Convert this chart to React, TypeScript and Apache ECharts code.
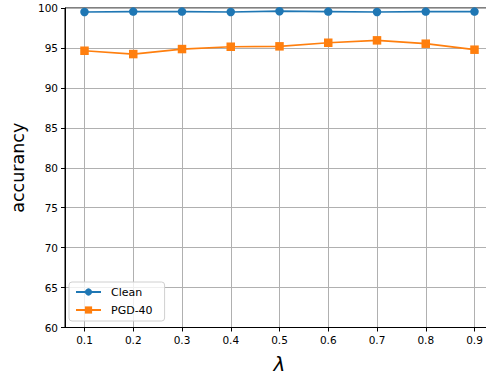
import React, { useEffect, useRef } from "react";
import * as echarts from "echarts";

const lambdas = [0.1, 0.2, 0.3, 0.4, 0.5, 0.6, 0.7, 0.8, 0.9];
const cleanAcc = [99.5, 99.55, 99.55, 99.5, 99.6, 99.55, 99.5, 99.55, 99.55];
const pgdAcc = [94.65, 94.23, 94.86, 95.15, 95.2, 95.65, 95.95, 95.53, 94.78];
const yTicks = [60, 65, 70, 75, 80, 85, 90, 95, 100];

export default function App() {
  const ref = useRef<HTMLDivElement>(null);
  useEffect(() => {
    if (!ref.current) return;
    const chart = echarts.init(ref.current, null, { renderer: "svg" });
    const font = "DejaVu Sans";
    chart.setOption({
      animation: false,
      textStyle: { fontFamily: font },
      grid: {
        left: 65,
        right: -8,
        top: 8,
        bottom: 47.5,
        containLabel: false,
        outerBoundsMode: "none",
        show: true,
        borderColor: "#000",
        borderWidth: 1,
        backgroundColor: "transparent",
      },
      legend: {
        orient: "vertical",
        left: 69,
        top: 282,
        data: ["Clean", "PGD-40"],
        itemWidth: 25,
        itemHeight: 9,
        itemGap: 6,
        padding: [4, 12, 5, 6],
        borderColor: "#d0d0d0",
        borderWidth: 1,
        borderRadius: 3,
        backgroundColor: "rgba(255,255,255,0.8)",
        textStyle: {
          fontFamily: font,
          fontSize: 11,
          lineHeight: 12,
          color: "#000",
          padding: [0, 0, 0, 5],
        },
      },
      xAxis: {
        type: "value",
        min: 0.06,
        max: 0.94,
        name: "λ",
        nameLocation: "middle",
        nameGap: 26,
        nameTextStyle: { fontFamily: font, fontStyle: "italic", fontSize: 20, color: "#000" },
        axisLine: { show: true, onZero: false, lineStyle: { color: "#000", width: 1 } },
        axisTick: { show: true, length: 4, lineStyle: { color: "#000" }, customValues: lambdas },
        axisLabel: {
          customValues: lambdas,
          margin: 7,
          fontFamily: font,
          fontSize: 10.5,
          color: "#000",
          formatter: (v: number) => v.toFixed(1),
        },
        splitLine: { show: true, lineStyle: { color: "#b0b0b0", width: 1 } },
      },
      yAxis: {
        type: "value",
        min: 60,
        max: 100,
        interval: 5,
        name: "accurancy",
        nameLocation: "middle",
        nameGap: 37,
        nameTextStyle: { fontFamily: font, fontSize: 17.5, color: "#000" },
        axisLine: { show: true, lineStyle: { color: "#000", width: 1 } },
        axisTick: { show: true, length: 4, lineStyle: { color: "#000" } },
        axisLabel: {
          margin: 7,
          fontFamily: font,
          fontSize: 10.5,
          color: "#000",
          formatter: (v: number) => (yTicks.includes(v) ? String(v) : ""),
        },
        splitLine: { show: true, lineStyle: { color: "#b0b0b0", width: 1 } },
      },
      series: [
        {
          name: "Clean",
          type: "line",
          data: lambdas.map((x, i) => [x, cleanAcc[i]]),
          symbol: "circle",
          symbolSize: 8.5,
          itemStyle: { color: "#1f77b4" },
          lineStyle: { color: "#1f77b4", width: 1.7 },
        },
        {
          name: "PGD-40",
          type: "line",
          data: lambdas.map((x, i) => [x, pgdAcc[i]]),
          symbol: "rect",
          symbolSize: 8.5,
          itemStyle: { color: "#ff7f0e" },
          lineStyle: { color: "#ff7f0e", width: 1.7 },
        },
      ],
    });
    return () => chart.dispose();
  }, []);
  return <div ref={ref} style={{ width: 486, height: 375, position: "absolute", left: 0, top: 0 }} />;
}
